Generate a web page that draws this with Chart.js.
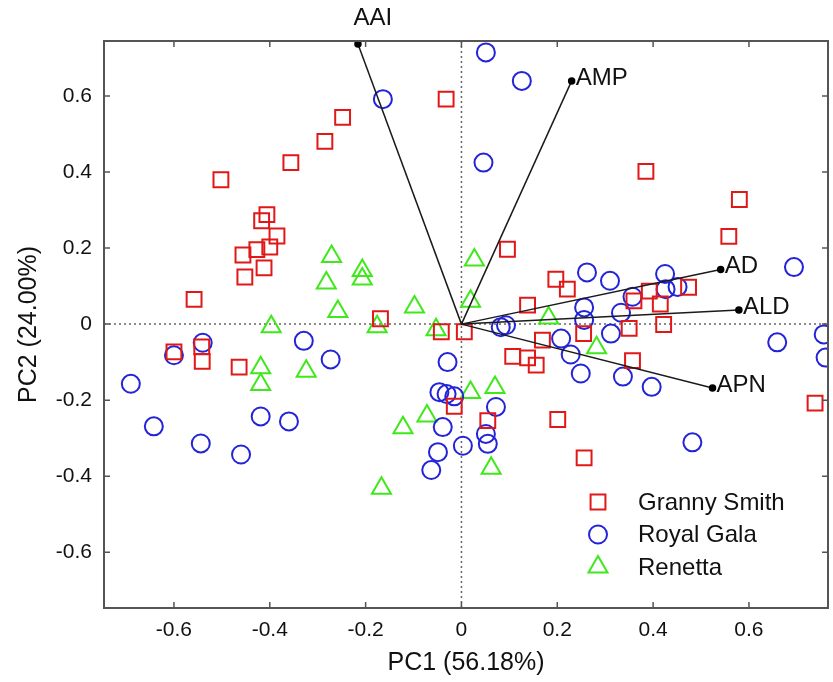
<!DOCTYPE html>
<html>
<head>
<meta charset="utf-8">
<script src="https://cdn.jsdelivr.net/npm/chart.js@4.4.0/dist/chart.umd.min.js"></script>
<style>
  html, body { margin: 0; padding: 0; background: #fff; }
</style>
</head>
<body>
<canvas id="pca" width="833" height="682"></canvas>
<script>
// axis ticks
const xTicks = [-0.6, -0.4, -0.2, 0, 0.2, 0.4, 0.6];
const yTicks = [-0.6, -0.4, -0.2, 0, 0.2, 0.4, 0.6];

// scores
const grannyX = [-0.502, -0.356, -0.285, -0.248, -0.406, -0.417, -0.385, -0.400, -0.427, -0.456,
  -0.452, -0.412, -0.558, -0.169, -0.600, -0.542, -0.541, -0.464, -0.032, 0.096,
  0.197, 0.221, 0.138, -0.042, 0.006, 0.169, 0.255, 0.107, 0.138, 0.156,
  -0.015, 0.055, 0.201, 0.256, 0.357, 0.385, 0.580, 0.558, 0.392, 0.474,
  0.360, 0.415, 0.350, 0.422, 0.738];
const grannyY = [0.380, 0.425, 0.481, 0.544, 0.288, 0.272, 0.232, 0.203, 0.196, 0.182,
  0.124, 0.148, 0.065, 0.014, -0.073, -0.060, -0.098, -0.113, 0.592, 0.197,
  0.118, 0.092, 0.050, -0.020, -0.020, -0.042, -0.025, -0.085, -0.089, -0.108,
  -0.216, -0.254, -0.251, -0.352, -0.096, 0.402, 0.328, 0.231, 0.087, 0.097,
  0.061, 0.053, -0.011, -0.001, -0.208];

const galaX = [-0.164, 0.051, 0.126, 0.046, -0.600, -0.540, -0.690, -0.642, -0.544, -0.460,
  -0.419, -0.360, -0.329, -0.273, 0.093, 0.082, -0.029, -0.046, -0.031, -0.015,
  0.072, 0.051, 0.055, 0.003, -0.039, -0.049, -0.063, 0.262, 0.310, 0.425,
  0.357, 0.426, 0.451, 0.333, 0.256, 0.256, 0.312, 0.208, 0.228, 0.249,
  0.337, 0.397, 0.482, 0.694, 0.659, 0.756, 0.760];
const galaY = [0.592, 0.715, 0.640, 0.425, -0.082, -0.049, -0.157, -0.269, -0.314, -0.343,
  -0.243, -0.256, -0.044, -0.093, -0.003, -0.008, -0.100, -0.179, -0.184, -0.190,
  -0.218, -0.289, -0.315, -0.320, -0.271, -0.337, -0.384, 0.136, 0.114, 0.132,
  0.072, 0.092, 0.098, 0.030, 0.044, 0.011, -0.025, -0.038, -0.080, -0.130,
  -0.138, -0.165, -0.311, 0.150, -0.048, -0.027, -0.088];

const renettaX = [-0.271, -0.282, -0.207, -0.207, -0.258, -0.397, -0.176, -0.098, 0.027, 0.019,
  -0.053, 0.182, 0.282, 0.019, 0.070, -0.072, -0.122, 0.062, -0.167, -0.419,
  -0.419, -0.324];
const renettaY = [0.178, 0.108, 0.141, 0.119, 0.033, -0.007, -0.007, 0.045, 0.169, 0.060,
  -0.015, 0.016, -0.062, -0.180, -0.167, -0.242, -0.273, -0.379, -0.432, -0.115,
  -0.159, -0.124];

// loading vectors
const loadingNames = ['AAI', 'AMP', 'AD', 'ALD', 'APN'];
const loadingX = [-0.216, 0.230, 0.541, 0.579, 0.524];
const loadingY = [0.737, 0.640, 0.144, 0.037, -0.168];

const FONT = "'Liberation Sans', Arial, Helvetica, sans-serif";
const zip = (xs, ys) => xs.map((x, i) => ({ x: x, y: ys[i] }));

const series = [
  { label: 'Granny Smith', xs: grannyX, ys: grannyY, color: '#e01818', style: 'rect', r: 10.5 },
  { label: 'Royal Gala', xs: galaX, ys: galaY, color: '#2323d8', style: 'circle', r: 9 },
  { label: 'Renetta', xs: renettaX, ys: renettaY, color: '#3fe81a', style: 'triangle', r: 11 }
];

const loadingSets = loadingNames.map((name, i) => ({
  label: name,
  data: [{ x: 0, y: 0 }, { x: loadingX[i], y: loadingY[i] }],
  showLine: true,
  borderColor: '#1a1a1a',
  borderWidth: 1.5,
  pointRadius: [0, 3],
  pointBackgroundColor: '#000',
  pointBorderColor: '#000',
  clip: false,
  order: 0
}));

const scoreSets = series.map(s => ({
  label: s.label,
  data: zip(s.xs, s.ys),
  pointStyle: s.style,
  pointRadius: s.r,
  pointHoverRadius: s.r,
  borderColor: s.color,
  backgroundColor: 'rgba(0,0,0,0)',
  borderWidth: 2,
  clip: 0,
  order: 1
}));

// frame, inward ticks, dotted zero lines, vector labels, legend
const decor = {
  id: 'decor',
  beforeDatasetsDraw(chart) {
    const { ctx, chartArea: a, scales: { x, y } } = chart;
    ctx.save();
    ctx.strokeStyle = '#666';
    ctx.lineWidth = 1.5;
    ctx.setLineDash([2, 3]);
    const x0 = x.getPixelForValue(0), y0 = y.getPixelForValue(0);
    ctx.beginPath();
    ctx.moveTo(x0, a.top); ctx.lineTo(x0, a.bottom);
    ctx.moveTo(a.left, y0); ctx.lineTo(a.right, y0);
    ctx.stroke();
    ctx.restore();
  },
  afterDraw(chart) {
    const { ctx, chartArea: a, scales: { x, y } } = chart;
    ctx.save();
    ctx.strokeStyle = '#555';
    ctx.lineWidth = 2;
    ctx.strokeRect(a.left, a.top, a.right - a.left, a.bottom - a.top);
    ctx.lineWidth = 1.5;
    ctx.beginPath();
    xTicks.forEach(v => {
      const px = x.getPixelForValue(v);
      ctx.moveTo(px, a.bottom); ctx.lineTo(px, a.bottom - 6);
      ctx.moveTo(px, a.top); ctx.lineTo(px, a.top + 6);
    });
    yTicks.forEach(v => {
      const py = y.getPixelForValue(v);
      ctx.moveTo(a.left, py); ctx.lineTo(a.left + 6, py);
      ctx.moveTo(a.right, py); ctx.lineTo(a.right - 6, py);
    });
    ctx.stroke();

    // vector labels
    ctx.fillStyle = '#111';
    ctx.font = '24px ' + FONT;
    ctx.textBaseline = 'middle';
    loadingNames.forEach((name, i) => {
      const px = x.getPixelForValue(loadingX[i]);
      const py = y.getPixelForValue(loadingY[i]);
      if (name === 'AAI') {
        ctx.textAlign = 'center';
        ctx.fillText(name, px + 15, py - 26);
      } else {
        ctx.textAlign = 'left';
        ctx.fillText(name, px + 4, py - 3);
      }
    });

    // legend
    const lx = a.right - 230, ly = a.bottom - 106;
    series.forEach((s, i) => {
      const cy = ly + i * 32.5;
      ctx.strokeStyle = s.color;
      ctx.lineWidth = 2;
      ctx.beginPath();
      if (s.style === 'rect') {
        const h = s.r * Math.SQRT1_2;
        ctx.rect(lx - h, cy - h, 2 * h, 2 * h);
      } else if (s.style === 'circle') {
        ctx.arc(lx, cy, s.r, 0, Math.PI * 2);
      } else {
        const r = s.r;
        ctx.moveTo(lx, cy - r);
        ctx.lineTo(lx + r * Math.sin(2 * Math.PI / 3), cy + r / 2);
        ctx.lineTo(lx - r * Math.sin(2 * Math.PI / 3), cy + r / 2);
        ctx.closePath();
      }
      ctx.stroke();
      ctx.fillStyle = '#111';
      ctx.textAlign = 'left';
      ctx.font = '24px ' + FONT;
      ctx.fillText(s.label, lx + 40, cy + 1);
    });
    ctx.restore();
  }
};

new Chart(document.getElementById('pca'), {
  type: 'scatter',
  data: { datasets: loadingSets.concat(scoreSets) },
  options: {
    responsive: false,
    devicePixelRatio: 1,
    animation: false,
    layout: { autoPadding: false, padding: { top: 41, right: 5, left: 0, bottom: 0 } },
    plugins: {
      legend: { display: false },
      tooltip: { enabled: false }
    },
    scales: {
      x: {
        type: 'linear',
        min: -0.746,
        max: 0.765,
        afterBuildTicks: s => { s.ticks = xTicks.map(v => ({ value: v })); },
        afterFit: s => { s.height = 74; },
        grid: { display: false, drawTicks: false },
        border: { display: false },
        ticks: {
          padding: 10,
          color: '#111',
          font: { family: FONT, size: 21 },
          callback: v => String(Math.round(v * 10) / 10)
        },
        title: {
          display: true,
          text: 'PC1 (56.18%)',
          color: '#111',
          font: { family: FONT, size: 25 },
          padding: { top: 0, bottom: 4 }
        }
      },
      y: {
        type: 'linear',
        min: -0.747,
        max: 0.745,
        afterBuildTicks: s => { s.ticks = yTicks.map(v => ({ value: v })); },
        afterFit: s => { s.width = 104; },
        grid: { display: false, drawTicks: false },
        border: { display: false },
        ticks: {
          padding: 12,
          color: '#111',
          font: { family: FONT, size: 21 },
          callback: v => String(Math.round(v * 10) / 10)
        },
        title: {
          display: true,
          text: 'PC2 (24.00%)',
          color: '#111',
          font: { family: FONT, size: 25 },
          padding: { top: 14, bottom: 0 }
        }
      }
    }
  },
  plugins: [decor]
});
</script>
</body>
</html>
